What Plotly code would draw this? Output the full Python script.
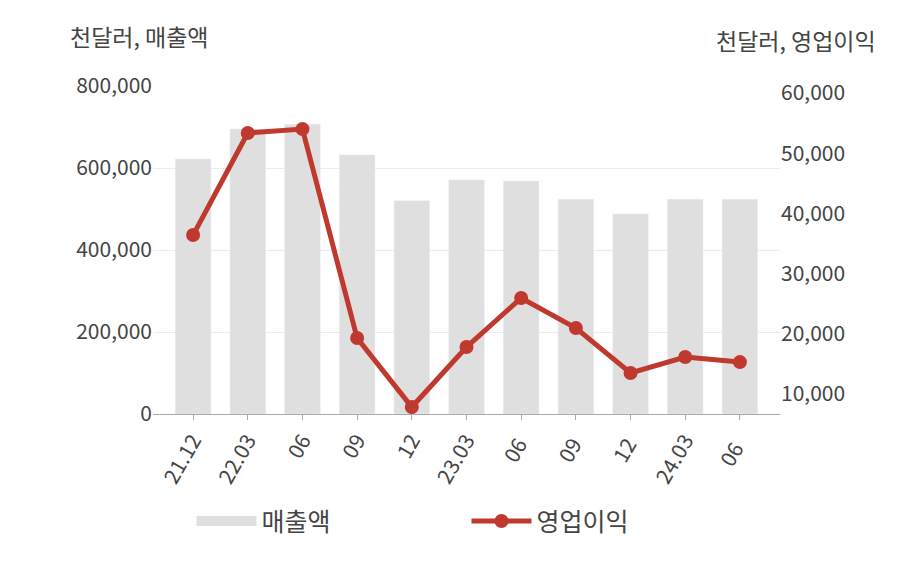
import plotly.graph_objects as go

categories = ["21.12", "22.03", "06", "09", "12", "23.03", "06 ", "09 ", "12 ", "24.03", "06  "]
sales = [622000, 695000, 707000, 632000, 520000, 571000, 568000, 524000, 488000, 524000, 524000]
op_income = [36400, 53350, 54000, 19300, 7840, 17800, 25950, 20960, 13490, 16150, 15300]

font = "Noto Sans CJK KR"
fig = go.Figure()
fig.add_trace(go.Bar(x=categories, y=sales, name="매출액", marker_color="#dfdfdf", width=0.65,
                     showlegend=False))
fig.add_trace(go.Scatter(x=[None], y=[None], name="매출액", mode="lines",
                         line=dict(color="#dfdfdf", width=20)))
fig.add_trace(go.Scatter(x=categories, y=op_income, name="영업이익", yaxis="y2",
                         mode="lines+markers", line=dict(color="#c0392f", width=5),
                         marker=dict(size=14, color="#c0392f")))
fig.update_layout(
    width=908, height=580, plot_bgcolor="white", paper_bgcolor="white",
    margin=dict(l=145, r=136, t=78, b=174, autoexpand=False),
    font=dict(family=font, size=21, color="#444"),
    xaxis=dict(tickangle=-60, showline=True, linecolor="#aaa", ticks="outside", tickcolor="#aaa",
               tickfont=dict(size=21), automargin=False),
    yaxis=dict(range=[0, 800000], tickvals=[0, 200000, 400000, 600000, 800000], tickformat=",",
               gridcolor="#ebebeb", zeroline=False, automargin=False),
    yaxis2=dict(overlaying="y", side="right", range=[6680, 61160],
                tickvals=[10000, 20000, 30000, 40000, 50000, 60000], tickformat=",",
                showgrid=False, zeroline=False, automargin=False),
    showlegend=True,
    legend=dict(orientation="h", x=0.5, xanchor="center", yref="container", y=0.115, yanchor="middle",
                font=dict(size=25), itemwidth=60, entrywidth=200),
    annotations=[
        dict(text="천달러, 매출액", xref="paper", yref="paper", x=-0.135, y=1.152, xanchor="left",
             yanchor="middle", showarrow=False, font=dict(size=23, color="#444")),
        dict(text="천달러, 영업이익", xref="paper", yref="paper", x=1.156, y=1.14, xanchor="right",
             yanchor="middle", showarrow=False, font=dict(size=23, color="#444")),
    ],
)
fig.write_html("out.html")
